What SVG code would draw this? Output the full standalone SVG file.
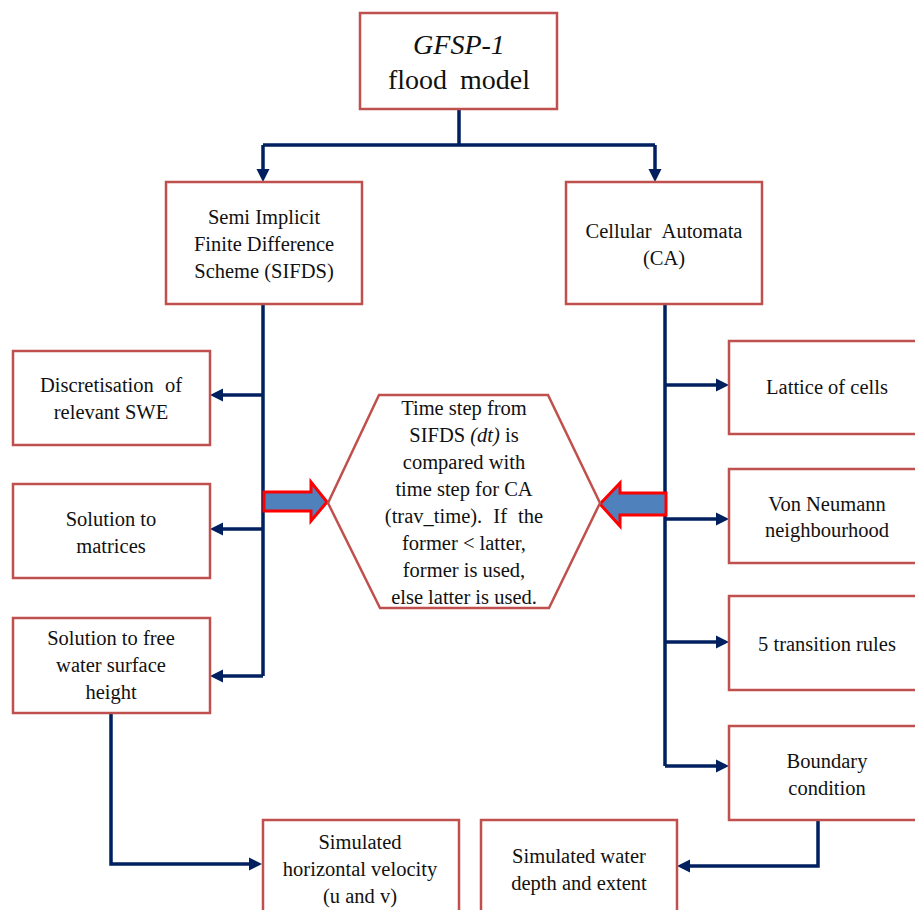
<svg xmlns="http://www.w3.org/2000/svg" width="915" height="910" viewBox="0 0 915 910">
<style>
.box{fill:#fff;stroke:#C0504D;stroke-width:2.5}
.t{font-size:20.5px;fill:#111;text-anchor:middle}
.big{font-size:28px}
.ws{word-spacing:6px}
.c{fill:none;stroke:#002060;stroke-width:3.5;stroke-linejoin:miter}
.ah{fill:#002060}
.ba{fill:#4F81BD;stroke:#FF0000;stroke-width:3}
</style>
<defs>
<path id="ahR" d="M-13,-6.5 L0,0 L-13,6.5 Z"/>
</defs>
<rect width="915" height="910" fill="#fff"/>
<g id="connectors">
<path class="c" d="M459,109 V145 M263,145 H655"/>
<path class="c" d="M263,145 V172"/>
<path class="c" d="M655,145 V172"/>
<path class="c" d="M263,304 V676"/>
<path class="c" d="M263,395 H220"/>
<path class="c" d="M263,529 H220"/>
<path class="c" d="M263,676 H220"/>
<path class="c" d="M665,304 V766"/>
<path class="c" d="M665,385 H718"/>
<path class="c" d="M665,519 H718"/>
<path class="c" d="M665,642 H718"/>
<path class="c" d="M665,766 H718"/>
<path class="c" d="M111,713 V864 H251"/>
<path class="c" d="M818,820 V866 H688"/>
<use class="ah" href="#ahR" transform="translate(263,182) rotate(90)"/>
<use class="ah" href="#ahR" transform="translate(655,182) rotate(90)"/>
<use class="ah" href="#ahR" transform="translate(210,395) rotate(180)"/>
<use class="ah" href="#ahR" transform="translate(210,529) rotate(180)"/>
<use class="ah" href="#ahR" transform="translate(210,676) rotate(180)"/>
<use class="ah" href="#ahR" transform="translate(729,385)"/>
<use class="ah" href="#ahR" transform="translate(729,519)"/>
<use class="ah" href="#ahR" transform="translate(729,642)"/>
<use class="ah" href="#ahR" transform="translate(729,766)"/>
<use class="ah" href="#ahR" transform="translate(262,864)"/>
<use class="ah" href="#ahR" transform="translate(677,866) rotate(180)"/>
<path class="ba" d="M264,492 H311 V482 L327,502 L311,521 V511 H264 Z"/>
<path class="ba" d="M666,493 H620 V483 L600,504 L620,526 V515 H666 Z"/>
</g>
<g font-family="Liberation Serif, Times New Roman, DejaVu Serif, serif">
<g id="gfsp">
<rect class="box" x="360" y="13" width="197" height="96"/>
<text class="t big" x="459" y="54" font-style="italic">GFSP-1</text>
<text class="t big ws" x="459" y="89">flood model</text>
</g>
<g id="sifds">
<rect class="box" x="166" y="182" width="196" height="122"/>
<text class="t" x="264" y="224">Semi Implicit</text>
<text class="t" x="264" y="251">Finite Difference</text>
<text class="t" x="264" y="278">Scheme (SIFDS)</text>
</g>
<g id="ca">
<rect class="box" x="566" y="182" width="196" height="122"/>
<text class="t ws" x="664" y="238">Cellular Automata</text>
<text class="t" x="664" y="265">(CA)</text>
</g>
<g id="discretisation">
<rect class="box" x="13" y="351" width="197" height="94"/>
<text class="t ws" x="111" y="392">Discretisation of</text>
<text class="t" x="111" y="419">relevant SWE</text>
</g>
<g id="matrices">
<rect class="box" x="13" y="484" width="197" height="94"/>
<text class="t" x="111" y="526">Solution to</text>
<text class="t" x="111" y="553">matrices</text>
</g>
<g id="freesurface">
<rect class="box" x="13" y="618" width="197" height="95"/>
<text class="t" x="111" y="645">Solution to free</text>
<text class="t" x="111" y="672">water surface</text>
<text class="t" x="111" y="699">height</text>
</g>
<g id="timestep">
<path d="M379,395 H548 L600,503 L549,608 H380 L328,503 Z" fill="#fff" stroke="#C0504D" stroke-width="2.5"/>
<text class="t" x="464" y="415">Time step from</text>
<text class="t" x="464" y="442">SIFDS <tspan font-style="italic">(dt)</tspan> is</text>
<text class="t" x="464" y="469">compared with</text>
<text class="t" x="464" y="496">time step for CA</text>
<text class="t ws" x="464" y="523">(trav_time). If the</text>
<text class="t" x="464" y="550">former &lt; latter,</text>
<text class="t" x="464" y="577">former is used,</text>
<text class="t" x="464" y="604">else latter is used.</text>
</g>
<g id="lattice">
<rect class="box" x="729" y="341" width="200" height="93"/>
<text class="t" x="827" y="394">Lattice of cells</text>
</g>
<g id="vonneumann">
<rect class="box" x="729" y="469" width="200" height="94"/>
<text class="t" x="827" y="511">Von Neumann</text>
<text class="t" x="827" y="537">neighbourhood</text>
</g>
<g id="transition">
<rect class="box" x="729" y="596" width="200" height="94"/>
<text class="t" x="827" y="651">5 transition rules</text>
</g>
<g id="boundary">
<rect class="box" x="729" y="726" width="200" height="94"/>
<text class="t" x="827" y="768">Boundary</text>
<text class="t" x="827" y="795">condition</text>
</g>
<g id="velocity">
<rect class="box" x="263" y="820" width="196" height="100"/>
<text class="t" x="360" y="849">Simulated</text>
<text class="t" x="360" y="876">horizontal velocity</text>
<text class="t" x="360" y="903">(u and v)</text>
</g>
<g id="waterdepth">
<rect class="box" x="481" y="820" width="196" height="100"/>
<text class="t" x="579" y="863">Simulated water</text>
<text class="t" x="579" y="890">depth and extent</text>
</g>
</g>
</svg>
